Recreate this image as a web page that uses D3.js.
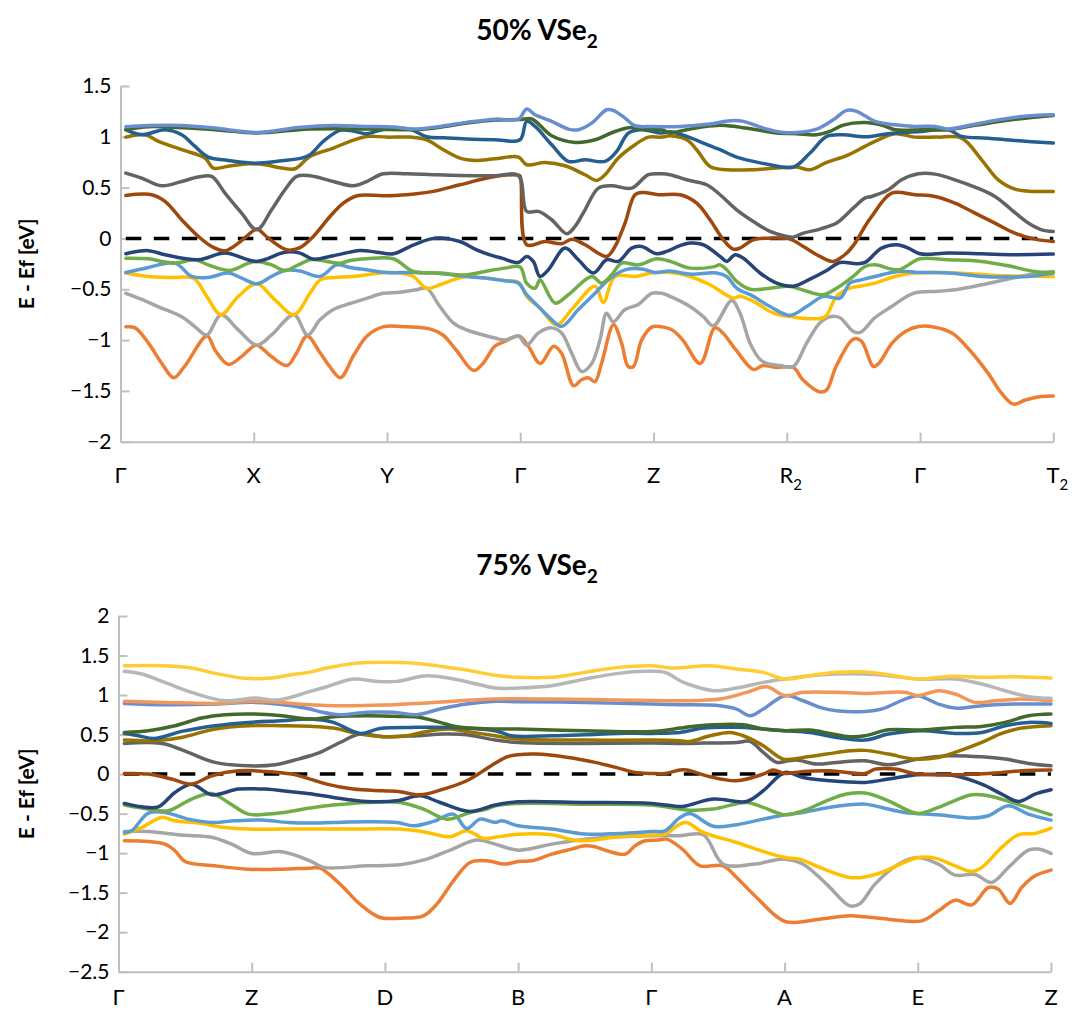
<!DOCTYPE html>
<html>
<head>
<meta charset="utf-8">
<script src="https://cdn.jsdelivr.net/npm/d3@7"></script>
<style>
  body { margin: 0; background: #fff; }
  svg { display: block; }
  text { font-family: Lato, "Open Sans", sans-serif; fill: #000; }
</style>
</head>
<body>
<svg id="chart" width="1074" height="1012"></svg>
<script>
// ---------- high-symmetry k-path labels ([base, subscript]) ----------
const kPath50 = [["Γ"], ["X"], ["Y"], ["Γ"], ["Z"], ["R", "2"], ["Γ"], ["T", "2"]];
const kPath75 = [["Γ"], ["Z"], ["D"], ["B"], ["Γ"], ["A"], ["E"], ["Z"]];

// ---------- energy tick values (eV) ----------
const yTicks50 = [1.5, 1, 0.5, 0, -0.5, -1, -1.5, -2];
const yTicks75 = [2, 1.5, 1, 0.5, 0, -0.5, -1, -1.5, -2, -2.5];

// ---------- 50% VSe2 bands: [k (path units), E - Ef (eV)] ----------
const b50_1 = [[0.04,-0.87],[0.11,-0.88],[0.21,-1.03],[0.31,-1.23],[0.40,-1.37],[0.48,-1.26],[0.65,-0.96],[0.71,-1.10],[0.81,-1.24],[0.91,-1.16],[1.02,-1.05],[1.13,-1.16],[1.25,-1.25],[1.32,-1.13],[1.40,-0.96],[1.50,-1.13],[1.57,-1.26],[1.65,-1.37],[1.75,-1.15],[1.85,-0.96],[1.97,-0.87],[2.15,-0.87],[2.32,-0.89],[2.42,-0.95],[2.52,-1.10],[2.65,-1.30],[2.72,-1.23],[2.81,-1.06],[2.89,-1.01],[2.99,-0.96],[3.06,-1.06],[3.15,-1.23],[3.25,-1.06],[3.31,-1.13],[3.40,-1.45],[3.46,-1.39],[3.51,-1.37],[3.56,-1.41],[3.61,-1.23],[3.70,-0.85],[3.76,-1.03],[3.81,-1.26],[3.85,-1.26],[3.91,-1.00],[3.99,-0.87],[4.06,-0.87],[4.14,-0.90],[4.22,-1.00],[4.35,-1.23],[4.46,-0.88],[4.52,-0.93],[4.62,-1.10],[4.75,-1.29],[4.82,-1.25],[4.92,-1.27],[5.05,-1.27],[5.12,-1.39],[5.25,-1.51],[5.30,-1.49],[5.37,-1.26],[5.50,-0.99],[5.56,-1.01],[5.65,-1.26],[5.69,-1.23],[5.79,-1.03],[5.89,-0.915],[5.99,-0.866],[6.11,-0.873],[6.24,-0.93],[6.36,-1.08],[6.51,-1.325],[6.61,-1.52],[6.70,-1.63],[6.79,-1.59],[6.91,-1.555],[7.0,-1.55]];
const b50_2 = [[0.04,-0.54],[0.16,-0.60],[0.28,-0.67],[0.46,-0.77],[0.56,-0.87],[0.647,-0.95],[0.754,-0.75],[0.884,-0.90],[1.022,-1.05],[1.134,-0.95],[1.302,-0.75],[1.404,-0.95],[1.497,-0.80],[1.597,-0.70],[1.722,-0.64],[1.847,-0.59],[1.972,-0.54],[2.097,-0.53],[2.222,-0.505],[2.297,-0.49],[2.397,-0.67],[2.497,-0.83],[2.597,-0.90],[2.722,-0.95],[2.81,-0.98],[2.886,-1.0],[2.986,-0.96],[3.048,-1.05],[3.136,-0.93],[3.236,-0.88],[3.31,-0.93],[3.386,-1.13],[3.461,-1.31],[3.536,-1.23],[3.598,-1.0],[3.648,-0.735],[3.698,-0.82],[3.786,-0.70],[3.886,-0.65],[3.986,-0.54],[4.061,-0.54],[4.124,-0.57],[4.274,-0.67],[4.374,-0.77],[4.449,-0.86],[4.587,-0.61],[4.649,-0.735],[4.724,-1.03],[4.799,-1.19],[4.849,-1.23],[4.949,-1.25],[5.049,-1.26],[5.149,-1.03],[5.249,-0.83],[5.324,-0.77],[5.399,-0.78],[5.499,-0.915],[5.55,-0.925],[5.662,-0.78],[5.787,-0.67],[5.95,-0.54],[6.137,-0.52],[6.262,-0.505],[6.462,-0.456],[6.637,-0.407],[6.812,-0.358],[7.0,-0.325]];
const b50_3 = [[0.04,-0.34],[0.21,-0.374],[0.38,-0.384],[0.55,-0.394],[0.647,-0.57],[0.754,-0.75],[0.884,-0.57],[1.022,-0.446],[1.159,-0.604],[1.302,-0.75],[1.422,-0.54],[1.497,-0.41],[1.597,-0.384],[1.747,-0.374],[1.897,-0.348],[1.997,-0.335],[2.097,-0.34],[2.197,-0.374],[2.297,-0.49],[2.397,-0.456],[2.497,-0.407],[2.597,-0.374],[2.735,-0.39],[2.886,-0.415],[2.986,-0.43],[3.048,-0.57],[3.148,-0.686],[3.273,-0.85],[3.386,-0.70],[3.561,-0.47],[3.623,-0.63],[3.711,-0.374],[3.861,-0.374],[3.986,-0.34],[4.124,-0.335],[4.274,-0.374],[4.424,-0.456],[4.599,-0.587],[4.649,-0.57],[4.774,-0.636],[4.899,-0.735],[5.049,-0.774],[5.174,-0.79],[5.287,-0.77],[5.374,-0.57],[5.474,-0.49],[5.55,-0.47],[5.662,-0.44],[5.812,-0.374],[5.95,-0.34],[6.137,-0.335],[6.387,-0.348],[6.637,-0.367],[7.0,-0.374]];
const b50_4 = [[0.04,-0.335],[0.21,-0.285],[0.41,-0.243],[0.534,-0.374],[0.659,-0.384],[0.809,-0.34],[0.909,-0.39],[1.022,-0.446],[1.134,-0.374],[1.234,-0.315],[1.347,-0.32],[1.497,-0.374],[1.622,-0.26],[1.722,-0.285],[1.847,-0.308],[1.997,-0.335],[2.172,-0.335],[2.347,-0.34],[2.597,-0.374],[2.735,-0.39],[2.886,-0.417],[2.986,-0.44],[3.048,-0.554],[3.136,-0.67],[3.236,-0.80],[3.311,-0.866],[3.436,-0.70],[3.561,-0.54],[3.661,-0.407],[3.786,-0.31],[3.911,-0.30],[4.011,-0.335],[4.124,-0.32],[4.274,-0.351],[4.474,-0.34],[4.549,-0.374],[4.624,-0.49],[4.749,-0.57],[4.874,-0.67],[5.024,-0.757],[5.149,-0.67],[5.274,-0.57],[5.399,-0.587],[5.474,-0.44],[5.55,-0.41],[5.662,-0.374],[5.837,-0.325],[6.012,-0.335],[6.212,-0.34],[6.462,-0.374],[6.637,-0.38],[6.812,-0.374],[7.0,-0.34]];
const b50_5 = [[0.04,-0.194],[0.21,-0.20],[0.31,-0.226],[0.41,-0.243],[0.559,-0.21],[0.659,-0.26],[0.822,-0.315],[0.959,-0.243],[1.022,-0.226],[1.134,-0.26],[1.234,-0.315],[1.334,-0.26],[1.422,-0.21],[1.472,-0.21],[1.647,-0.243],[1.722,-0.217],[1.847,-0.20],[2.047,-0.20],[2.197,-0.325],[2.397,-0.34],[2.597,-0.358],[2.735,-0.325],[2.886,-0.292],[2.998,-0.28],[3.048,-0.44],[3.111,-0.49],[3.148,-0.41],[3.261,-0.636],[3.361,-0.554],[3.536,-0.374],[3.611,-0.44],[3.686,-0.358],[3.761,-0.243],[3.886,-0.26],[4.024,-0.20],[4.136,-0.23],[4.274,-0.292],[4.449,-0.28],[4.499,-0.26],[4.549,-0.308],[4.624,-0.423],[4.724,-0.50],[4.874,-0.49],[5.024,-0.472],[5.149,-0.52],[5.274,-0.554],[5.374,-0.49],[5.499,-0.374],[5.587,-0.276],[5.662,-0.26],[5.837,-0.308],[5.999,-0.20],[6.212,-0.21],[6.462,-0.226],[6.662,-0.269],[6.862,-0.325],[7.0,-0.335]];
const b50_6 = [[0.04,-0.15],[0.21,-0.12],[0.334,-0.16],[0.584,-0.21],[0.784,-0.144],[1.022,-0.226],[1.234,-0.135],[1.347,-0.144],[1.447,-0.203],[1.597,-0.17],[1.797,-0.118],[1.922,-0.135],[2.047,-0.151],[2.172,-0.08],[2.322,-0.007],[2.422,0.003],[2.547,-0.03],[2.672,-0.112],[2.81,-0.177],[2.861,-0.194],[2.986,-0.236],[3.048,-0.177],[3.098,-0.226],[3.148,-0.374],[3.211,-0.308],[3.336,-0.095],[3.436,-0.21],[3.548,-0.34],[3.648,-0.21],[3.736,-0.226],[3.836,-0.095],[3.911,-0.08],[4.024,-0.151],[4.099,-0.128],[4.199,-0.07],[4.274,-0.046],[4.374,-0.062],[4.499,-0.177],[4.549,-0.226],[4.612,-0.16],[4.674,-0.194],[4.799,-0.34],[4.924,-0.44],[5.049,-0.47],[5.174,-0.40],[5.299,-0.315],[5.399,-0.236],[5.524,-0.249],[5.587,-0.236],[5.712,-0.095],[5.825,-0.062],[5.912,-0.095],[5.999,-0.151],[6.212,-0.144],[6.462,-0.151],[6.712,-0.16],[7.0,-0.154]];
const b50_7 = [[0.04,0.423],[0.234,0.43],[0.334,0.364],[0.459,0.184],[0.584,0.02],[0.684,-0.079],[0.784,-0.121],[0.884,-0.046],[0.959,0.036],[1.022,0.092],[1.109,0.003],[1.247,-0.112],[1.347,-0.09],[1.447,0.02],[1.572,0.216],[1.672,0.348],[1.784,0.423],[1.972,0.42],[2.147,0.43],[2.347,0.463],[2.547,0.528],[2.81,0.61],[2.986,0.623],[3.0,0.61],[3.048,-0.062],[3.186,-0.03],[3.311,-0.052],[3.386,-0.007],[3.486,-0.062],[3.648,-0.177],[3.711,-0.079],[3.786,0.151],[3.861,0.43],[3.923,0.453],[4.036,0.43],[4.199,0.43],[4.324,0.348],[4.424,0.184],[4.524,-0.013],[4.599,-0.105],[4.649,-0.095],[4.749,-0.013],[4.874,0.003],[5.024,-0.007],[5.124,-0.079],[5.249,-0.177],[5.349,-0.226],[5.449,-0.144],[5.512,-0.046],[5.586,0.118],[5.637,0.216],[5.787,0.446],[5.962,0.43],[6.112,0.413],[6.262,0.348],[6.412,0.249],[6.562,0.151],[6.712,0.052],[6.862,-0.007],[7.0,-0.03]];
const b50_8 = [[0.04,0.643],[0.159,0.594],[0.309,0.518],[0.459,0.56],[0.584,0.604],[0.684,0.61],[0.784,0.446],[0.909,0.249],[1.022,0.085],[1.134,0.282],[1.234,0.479],[1.322,0.61],[1.422,0.617],[1.597,0.56],[1.747,0.518],[1.847,0.56],[1.972,0.636],[2.147,0.636],[2.347,0.627],[2.547,0.62],[2.81,0.617],[2.986,0.617],[3.048,0.266],[3.136,0.266],[3.236,0.184],[3.348,0.046],[3.411,0.118],[3.486,0.282],[3.586,0.495],[3.686,0.518],[3.836,0.495],[3.961,0.627],[4.061,0.636],[4.124,0.627],[4.249,0.577],[4.399,0.528],[4.499,0.43],[4.624,0.282],[4.749,0.167],[4.874,0.069],[4.999,0.02],[5.049,0.013],[5.124,0.052],[5.249,0.092],[5.374,0.151],[5.499,0.299],[5.586,0.397],[5.637,0.413],[5.762,0.479],[5.862,0.577],[5.987,0.636],[6.112,0.633],[6.262,0.577],[6.412,0.505],[6.562,0.413],[6.687,0.282],[6.812,0.151],[6.912,0.085],[7.0,0.069]];
const b50_9 = [[0.04,0.997],[0.184,1.02],[0.284,0.955],[0.459,0.873],[0.634,0.791],[0.697,0.693],[0.809,0.71],[0.959,0.735],[1.084,0.725],[1.209,0.693],[1.309,0.686],[1.422,0.807],[1.597,0.889],[1.722,0.955],[1.847,1.004],[1.997,0.997],[2.172,0.997],[2.297,0.971],[2.422,0.873],[2.547,0.791],[2.672,0.768],[2.81,0.784],[2.986,0.80],[3.048,0.725],[3.186,0.748],[3.336,0.715],[3.486,0.627],[3.573,0.571],[3.636,0.627],[3.736,0.791],[3.861,0.922],[3.961,0.997],[4.061,0.997],[4.124,1.01],[4.249,0.971],[4.324,0.873],[4.424,0.709],[4.549,0.676],[4.749,0.676],[4.924,0.693],[5.074,0.702],[5.174,0.676],[5.299,0.748],[5.449,0.814],[5.586,0.906],[5.662,0.955],[5.812,1.03],[5.962,0.997],[6.137,0.997],[6.312,0.987],[6.462,0.774],[6.587,0.577],[6.712,0.486],[6.837,0.463],[7.0,0.463]];
const b50_10 = [[0.04,1.07],[0.159,1.02],[0.334,1.07],[0.459,1.02],[0.559,0.906],[0.659,0.801],[0.809,0.768],[1.009,0.741],[1.209,0.764],[1.359,0.79],[1.422,0.823],[1.522,0.955],[1.647,1.063],[1.747,1.056],[1.847,1.03],[1.972,1.073],[2.172,1.073],[2.297,1.0],[2.422,0.99],[2.597,0.978],[2.81,0.971],[2.998,0.971],[3.048,1.152],[3.111,1.102],[3.236,0.922],[3.361,0.758],[3.486,0.774],[3.636,0.758],[3.723,0.856],[3.811,1.037],[3.911,1.07],[4.061,1.037],[4.124,1.05],[4.249,1.004],[4.374,0.938],[4.499,0.873],[4.624,0.801],[4.749,0.758],[4.874,0.725],[5.049,0.702],[5.174,0.84],[5.299,1.004],[5.424,1.02],[5.586,1.0],[5.762,1.03],[6.012,1.053],[6.212,1.07],[6.312,1.004],[6.512,0.987],[6.712,0.964],[7.0,0.938]];
const b50_11 = [[0.04,1.07],[0.209,1.10],[0.459,1.09],[0.709,1.07],[1.022,1.037],[1.334,1.07],[1.422,1.076],[1.597,1.08],[1.847,1.076],[2.097,1.07],[2.197,1.07],[2.4,1.095],[2.6,1.135],[2.81,1.165],[2.998,1.17],[3.086,1.175],[3.236,1.01],[3.411,0.945],[3.561,0.971],[3.686,1.04],[3.811,1.09],[3.936,1.076],[4.061,1.07],[4.124,1.04],[4.249,1.07],[4.374,1.10],[4.499,1.115],[4.624,1.10],[4.774,1.07],[4.924,1.037],[5.074,1.03],[5.224,1.02],[5.324,1.053],[5.424,1.115],[5.586,1.14],[5.712,1.115],[5.812,1.07],[6.012,1.07],[6.212,1.07],[6.4,1.11],[6.7,1.17],[7.0,1.21]];
const b50_12 = [[0.04,1.10],[0.209,1.112],[0.459,1.112],[0.709,1.086],[1.022,1.043],[1.334,1.092],[1.597,1.112],[1.847,1.102],[2.047,1.096],[2.197,1.076],[2.397,1.102],[2.597,1.142],[2.81,1.174],[2.986,1.174],[3.048,1.273],[3.111,1.217],[3.236,1.152],[3.361,1.076],[3.436,1.07],[3.536,1.135],[3.648,1.266],[3.698,1.26],[3.786,1.184],[3.861,1.109],[3.986,1.102],[4.199,1.102],[4.274,1.109],[4.424,1.125],[4.574,1.158],[4.674,1.152],[4.824,1.086],[4.974,1.043],[5.074,1.043],[5.224,1.076],[5.349,1.168],[5.449,1.26],[5.524,1.25],[5.586,1.207],[5.662,1.152],[5.812,1.118],[5.962,1.102],[6.112,1.102],[6.212,1.076],[6.387,1.118],[6.562,1.161],[6.762,1.20],[7.0,1.217]];

// ---------- 75% VSe2 bands ----------
const b75_1 = [[0.044,-0.844],[0.224,-0.852],[0.349,-0.886],[0.424,-0.97],[0.499,-1.105],[0.724,-1.16],[0.975,-1.203],[1.225,-1.203],[1.438,-1.19],[1.513,-1.19],[1.663,-1.392],[1.813,-1.646],[1.963,-1.814],[2.114,-1.823],[2.289,-1.793],[2.389,-1.646],[2.514,-1.35],[2.639,-1.118],[2.764,-1.097],[2.902,-1.139],[3.0,-1.105],[3.102,-1.097],[3.252,-1.013],[3.402,-0.949],[3.502,-0.907],[3.577,-0.92],[3.652,-0.962],[3.803,-1.013],[3.878,-0.907],[3.953,-0.844],[4.053,-0.835],[4.115,-0.823],[4.178,-0.88],[4.24,-0.96],[4.365,-1.16],[4.54,-1.16],[4.64,-1.308],[4.79,-1.561],[5.003,-1.865],[5.265,-1.835],[5.49,-1.793],[5.605,-1.806],[5.779,-1.835],[6.03,-1.857],[6.155,-1.73],[6.28,-1.595],[6.405,-1.654],[6.53,-1.435],[6.605,-1.456],[6.693,-1.637],[6.78,-1.435],[6.88,-1.287],[7.0,-1.215]];
const b75_2 = [[0.044,-0.726],[0.224,-0.726],[0.474,-0.772],[0.699,-0.80],[0.849,-0.886],[1.0,-1.004],[1.225,-0.983],[1.438,-1.097],[1.538,-1.18],[1.863,-1.16],[2.114,-1.148],[2.314,-1.076],[2.489,-0.962],[2.689,-0.835],[2.827,-0.886],[3.0,-0.962],[3.252,-0.886],[3.502,-0.823],[3.753,-0.793],[4.003,-0.78],[4.215,-0.78],[4.39,-0.768],[4.54,-1.14],[4.765,-1.14],[5.003,-1.076],[5.14,-1.14],[5.315,-1.392],[5.49,-1.667],[5.565,-1.64],[5.679,-1.392],[5.854,-1.14],[6.0,-1.055],[6.155,-1.14],[6.28,-1.278],[6.43,-1.27],[6.555,-1.371],[6.68,-1.181],[6.83,-0.962],[6.905,-0.949],[7.0,-1.004]];
const b75_3 = [[0.044,-0.76],[0.174,-0.675],[0.324,-0.548],[0.424,-0.591],[0.599,-0.62],[0.799,-0.675],[0.975,-0.696],[1.225,-0.696],[1.438,-0.696],[1.738,-0.696],[2.114,-0.696],[2.314,-0.738],[2.489,-0.793],[2.614,-0.717],[2.739,-0.814],[2.827,-0.80],[3.0,-0.76],[3.252,-0.768],[3.452,-0.844],[3.753,-0.793],[4.003,-0.772],[4.103,-0.76],[4.215,-0.633],[4.265,-0.612],[4.39,-0.738],[4.64,-0.865],[4.84,-0.979],[5.003,-1.055],[5.115,-1.076],[5.265,-1.181],[5.49,-1.308],[5.605,-1.30],[5.729,-1.245],[6.0,-1.055],[6.13,-1.063],[6.28,-1.16],[6.405,-1.232],[6.48,-1.181],[6.63,-0.928],[6.755,-0.768],[6.88,-0.751],[7.0,-0.684]];
const b75_4 = [[0.044,-0.738],[0.099,-0.717],[0.224,-0.494],[0.349,-0.485],[0.524,-0.57],[0.699,-0.612],[0.874,-0.591],[1.075,-0.582],[1.275,-0.612],[1.438,-0.62],[1.613,-0.612],[1.863,-0.603],[2.089,-0.612],[2.214,-0.654],[2.364,-0.599],[2.514,-0.506],[2.614,-0.688],[2.714,-0.57],[2.827,-0.61],[2.877,-0.591],[3.0,-0.654],[3.252,-0.696],[3.502,-0.759],[3.753,-0.751],[4.003,-0.726],[4.103,-0.717],[4.215,-0.55],[4.29,-0.50],[4.465,-0.66],[4.64,-0.64],[4.84,-0.57],[5.003,-0.515],[5.14,-0.485],[5.34,-0.42],[5.49,-0.388],[5.605,-0.38],[5.729,-0.422],[5.904,-0.485],[6.155,-0.515],[6.405,-0.557],[6.53,-0.527],[6.68,-0.40],[6.83,-0.506],[7.0,-0.582]];
const b75_5 = [[0.044,-0.392],[0.224,-0.443],[0.374,-0.464],[0.549,-0.316],[0.699,-0.245],[0.824,-0.359],[0.975,-0.506],[1.175,-0.498],[1.438,-0.43],[1.613,-0.392],[1.863,-0.359],[2.114,-0.359],[2.289,-0.443],[2.464,-0.57],[2.639,-0.485],[2.75,-0.45],[2.83,-0.40],[3.0,-0.371],[3.502,-0.38],[4.003,-0.392],[4.215,-0.443],[4.29,-0.456],[4.465,-0.443],[4.715,-0.359],[4.84,-0.422],[5.003,-0.515],[5.14,-0.464],[5.315,-0.338],[5.465,-0.253],[5.605,-0.24],[5.779,-0.338],[6.0,-0.498],[6.155,-0.422],[6.405,-0.262],[6.53,-0.274],[6.73,-0.371],[7.0,-0.515]];
const b75_6 = [[0.044,-0.371],[0.174,-0.414],[0.299,-0.414],[0.424,-0.232],[0.549,-0.127],[0.699,-0.262],[0.9,-0.19],[1.1,-0.19],[1.3,-0.224],[1.438,-0.25],[1.613,-0.295],[1.863,-0.346],[2.089,-0.338],[2.264,-0.274],[2.414,-0.359],[2.639,-0.473],[2.827,-0.392],[3.0,-0.35],[3.502,-0.359],[4.003,-0.371],[4.215,-0.41],[4.265,-0.40],[4.465,-0.316],[4.715,-0.346],[4.84,-0.211],[5.003,0.021],[5.14,-0.042],[5.34,-0.084],[5.605,-0.105],[5.779,-0.063],[6.0,-0.008],[6.28,-0.021],[6.48,-0.127],[6.63,-0.253],[6.755,-0.346],[6.88,-0.253],[7.0,-0.198]];
const b75_7 = [[0.044,0.008],[0.224,0.0],[0.399,-0.063],[0.549,-0.127],[0.699,-0.021],[0.9,0.042],[1.1,0.034],[1.3,0.0],[1.438,-0.063],[1.563,-0.127],[1.763,-0.19],[1.988,-0.211],[2.114,-0.224],[2.264,-0.262],[2.414,-0.203],[2.614,-0.084],[2.739,0.042],[2.83,0.14],[2.92,0.22],[3.0,0.245],[3.127,0.253],[3.377,0.211],[3.577,0.148],[3.753,0.076],[3.878,0.021],[4.003,0.008],[4.103,0.008],[4.215,0.051],[4.265,0.051],[4.44,-0.034],[4.64,-0.084],[4.84,0.0],[4.915,0.051],[5.003,0.008],[5.14,0.034],[5.34,0.042],[5.605,0.008],[5.679,0.063],[5.829,0.063],[6.0,0.0],[6.28,-0.008],[6.53,0.008],[6.78,0.042],[7.0,0.051]];
const b75_8 = [[0.044,0.388],[0.224,0.40],[0.349,0.38],[0.524,0.274],[0.724,0.148],[0.975,0.105],[1.175,0.118],[1.35,0.19],[1.438,0.232],[1.513,0.274],[1.663,0.40],[1.813,0.506],[1.988,0.473],[2.239,0.485],[2.439,0.506],[2.614,0.498],[2.827,0.43],[3.0,0.40],[3.502,0.388],[4.003,0.392],[4.215,0.388],[4.39,0.392],[4.64,0.40],[4.74,0.413],[4.84,0.274],[4.94,0.148],[5.003,0.16],[5.09,0.177],[5.24,0.127],[5.39,0.148],[5.605,0.169],[5.779,0.118],[6.0,0.19],[6.23,0.232],[6.48,0.219],[6.655,0.19],[6.83,0.135],[7.0,0.105]];
const b75_9 = [[0.044,0.43],[0.274,0.422],[0.474,0.464],[0.724,0.57],[0.975,0.612],[1.225,0.612],[1.438,0.605],[1.613,0.582],[1.813,0.506],[1.988,0.473],[2.164,0.485],[2.314,0.54],[2.489,0.57],[2.614,0.54],[2.827,0.485],[3.0,0.443],[3.502,0.43],[4.003,0.43],[4.215,0.422],[4.29,0.413],[4.44,0.485],[4.59,0.527],[4.69,0.485],[4.84,0.359],[4.99,0.19],[5.14,0.211],[5.315,0.253],[5.49,0.295],[5.605,0.30],[5.779,0.253],[5.979,0.19],[6.155,0.211],[6.28,0.274],[6.48,0.40],[6.63,0.515],[6.78,0.582],[7.0,0.612]];
const b75_10 = [[0.044,0.515],[0.149,0.485],[0.274,0.451],[0.474,0.54],[0.724,0.612],[0.975,0.654],[1.225,0.675],[1.438,0.696],[1.613,0.654],[1.813,0.515],[1.963,0.578],[2.239,0.591],[2.489,0.591],[2.827,0.549],[2.95,0.485],[3.252,0.485],[3.502,0.498],[3.753,0.515],[4.003,0.515],[4.215,0.527],[4.39,0.582],[4.64,0.591],[4.84,0.57],[5.003,0.549],[5.19,0.527],[5.39,0.464],[5.605,0.43],[5.779,0.506],[6.03,0.549],[6.28,0.515],[6.48,0.527],[6.655,0.612],[6.83,0.654],[7.0,0.641]];
const b75_11 = [[0.044,0.527],[0.224,0.549],[0.424,0.612],[0.624,0.709],[0.799,0.751],[1.025,0.76],[1.225,0.738],[1.438,0.696],[1.613,0.726],[1.863,0.738],[2.114,0.73],[2.264,0.717],[2.414,0.654],[2.539,0.599],[2.827,0.57],[3.0,0.57],[3.502,0.549],[4.003,0.54],[4.215,0.582],[4.29,0.60],[4.465,0.624],[4.69,0.624],[4.84,0.57],[5.003,0.549],[5.19,0.557],[5.34,0.515],[5.49,0.473],[5.605,0.485],[5.779,0.561],[6.03,0.557],[6.28,0.591],[6.48,0.603],[6.655,0.654],[6.83,0.738],[7.0,0.76]];
const b75_12 = [[0.044,0.894],[0.349,0.878],[0.724,0.886],[1.025,0.907],[1.3,0.865],[1.438,0.823],[1.513,0.789],[1.663,0.751],[1.863,0.781],[2.064,0.781],[2.239,0.751],[2.414,0.823],[2.614,0.886],[2.827,0.92],[3.0,0.915],[3.502,0.907],[4.003,0.886],[4.215,0.878],[4.515,0.865],[4.64,0.823],[4.74,0.738],[4.84,0.823],[5.003,0.992],[5.14,0.928],[5.265,0.844],[5.39,0.80],[5.605,0.793],[5.729,0.823],[5.904,0.949],[6.0,0.992],[6.155,0.886],[6.28,0.835],[6.48,0.865],[6.73,0.886],[7.0,0.886]];
const b75_13 = [[0.044,0.92],[0.349,0.907],[0.724,0.894],[1.025,0.92],[1.438,0.878],[1.613,0.865],[1.988,0.873],[2.364,0.907],[2.827,0.949],[3.252,0.949],[3.753,0.937],[4.215,0.928],[4.515,0.949],[4.715,1.034],[4.865,1.105],[5.003,0.992],[5.14,1.034],[5.39,1.034],[5.605,1.021],[5.904,1.034],[6.0,0.992],[6.155,1.055],[6.28,1.013],[6.43,0.907],[6.58,0.928],[6.78,0.949],[7.0,0.928]];
const b75_14 = [[0.044,1.30],[0.174,1.266],[0.349,1.16],[0.549,1.034],[0.799,0.928],[1.025,0.962],[1.2,0.937],[1.438,1.046],[1.563,1.105],[1.763,1.203],[1.938,1.173],[2.089,1.173],[2.314,1.245],[2.514,1.203],[2.689,1.14],[2.827,1.089],[3.0,1.089],[3.252,1.118],[3.502,1.203],[3.753,1.274],[3.953,1.30],[4.103,1.287],[4.215,1.181],[4.29,1.13],[4.465,1.055],[4.64,1.089],[4.84,1.16],[5.003,1.203],[5.19,1.245],[5.39,1.266],[5.605,1.266],[5.779,1.245],[6.0,1.203],[6.28,1.203],[6.48,1.14],[6.655,1.055],[6.83,0.979],[7.0,0.958]];
const b75_15 = [[0.044,1.371],[0.349,1.371],[0.549,1.342],[0.724,1.274],[0.949,1.211],[1.149,1.215],[1.299,1.257],[1.438,1.29],[1.563,1.342],[1.763,1.40],[1.988,1.414],[2.239,1.40],[2.439,1.359],[2.614,1.316],[2.827,1.25],[3.0,1.224],[3.252,1.224],[3.502,1.287],[3.753,1.35],[4.003,1.371],[4.154,1.342],[4.44,1.371],[4.64,1.329],[4.84,1.287],[5.003,1.203],[5.19,1.245],[5.39,1.287],[5.605,1.29],[5.779,1.257],[6.0,1.203],[6.23,1.236],[6.48,1.224],[6.73,1.232],[7.0,1.215]];

const bands50 = [b50_1, b50_2, b50_3, b50_4, b50_5, b50_6, b50_7, b50_8, b50_9, b50_10, b50_11, b50_12];
const bands75 = [b75_1, b75_2, b75_3, b75_4, b75_5, b75_6, b75_7, b75_8, b75_9, b75_10, b75_11, b75_12, b75_13, b75_14, b75_15];

// Office-style series palette, one colour per band index
const palette = ["#ED7D31", "#A5A5A5", "#FFC000", "#5B9BD5", "#70AD47", "#264478",
                 "#9E480E", "#636363", "#997300", "#255E91", "#43682B", "#698ED0",
                 "#F1975A", "#B7B7B7", "#FFCD33"];

const svg = d3.select("#chart");
const AXIS = "#BFBFBF";
const FONT = "Lato, 'Open Sans', sans-serif";

function subText(sel, base, sub, size) {
  sel.append("tspan").text(base);
  if (sub) {
    sel.append("tspan").attr("dy", size * 0.3).attr("font-size", size * 0.68).text(sub);
  }
}

function drawPanel(cfg) {
  const g = svg.append("g");
  const x = d3.scaleLinear().domain([0, cfg.kPath.length - 1]).range([cfg.left, cfg.right]);
  const y = d3.scaleLinear().domain(cfg.yDomain).range([cfg.bottom, cfg.top]);

  // title
  const t = g.append("text")
    .attr("x", 537).attr("y", cfg.titleY)
    .attr("text-anchor", "middle")
    .attr("font-size", 28).attr("font-weight", "bold");
  subText(t, cfg.title, "2", 28);

  // y axis title
  g.append("text")
    .attr("transform", `translate(${cfg.yTitleX},${(cfg.top + cfg.bottom) / 2}) rotate(-90)`)
    .attr("text-anchor", "middle")
    .attr("font-size", 21).attr("font-weight", "bold")
    .text("E - Ef [eV]");

  // y axis (ticks pointing into the plot)
  const ya = g.append("g").attr("transform", `translate(${cfg.left},0)`)
    .call(d3.axisLeft(y).tickValues(cfg.yTicks).tickSizeInner(-9).tickSizeOuter(0)
      .tickPadding(9).tickFormat(d3.format("")));
  ya.select(".domain").attr("stroke", AXIS).attr("stroke-width", 2);
  ya.selectAll(".tick line").attr("stroke", AXIS).attr("stroke-width", 2);
  ya.selectAll(".tick text").attr("font-size", 21).attr("font-family", FONT).attr("fill", "#000");

  // x axis at the bottom of the energy window
  const xa = g.append("g").attr("transform", `translate(0,${cfg.bottom})`)
    .call(d3.axisBottom(x).tickValues(d3.range(cfg.kPath.length)).tickSizeInner(-9)
      .tickSizeOuter(0).tickFormat(""));
  xa.select(".domain").attr("stroke", AXIS).attr("stroke-width", 2);
  xa.selectAll(".tick line").attr("stroke", AXIS).attr("stroke-width", 2);

  // k-point labels
  cfg.kPath.forEach((lab, i) => {
    const tx = g.append("text")
      .attr("x", x(i) + (lab[1] ? 4 : 0)).attr("y", cfg.labelY)
      .attr("text-anchor", "middle").attr("font-size", 22);
    subText(tx, lab[0], lab[1], 22);
  });

  // Fermi level
  g.append("line")
    .attr("x1", x(0.04)).attr("x2", x(cfg.kPath.length - 1))
    .attr("y1", y(0)).attr("y2", y(0))
    .attr("stroke", "#000").attr("stroke-width", 3.5)
    .attr("stroke-dasharray", "15.5,12.5");

  // bands
  const line = d3.line()
    .x(d => x(d[0])).y(d => y(d[1]))
    .curve(d3.curveCatmullRom.alpha(0.5));
  cfg.bands.forEach((b, i) => {
    g.append("path").datum(b)
      .attr("d", line)
      .attr("fill", "none")
      .attr("stroke", palette[i])
      .attr("stroke-width", 3.5)
      .attr("stroke-linejoin", "round")
      .attr("stroke-linecap", "round");
  });
}

drawPanel({
  title: "50% VSe", titleY: 40, kPath: kPath50, yTicks: yTicks50, yDomain: [-2, 1.5],
  left: 120.5, right: 1053.3, top: 86, bottom: 441.7, yTitleX: 34, labelY: 483, bands: bands50
});
drawPanel({
  title: "75% VSe", titleY: 575, kPath: kPath75, yTicks: yTicks75, yDomain: [-2.5, 2],
  left: 118.5, right: 1051, top: 616, bottom: 971.7, yTitleX: 34, labelY: 1005, bands: bands75
});
</script>
</body>
</html>
